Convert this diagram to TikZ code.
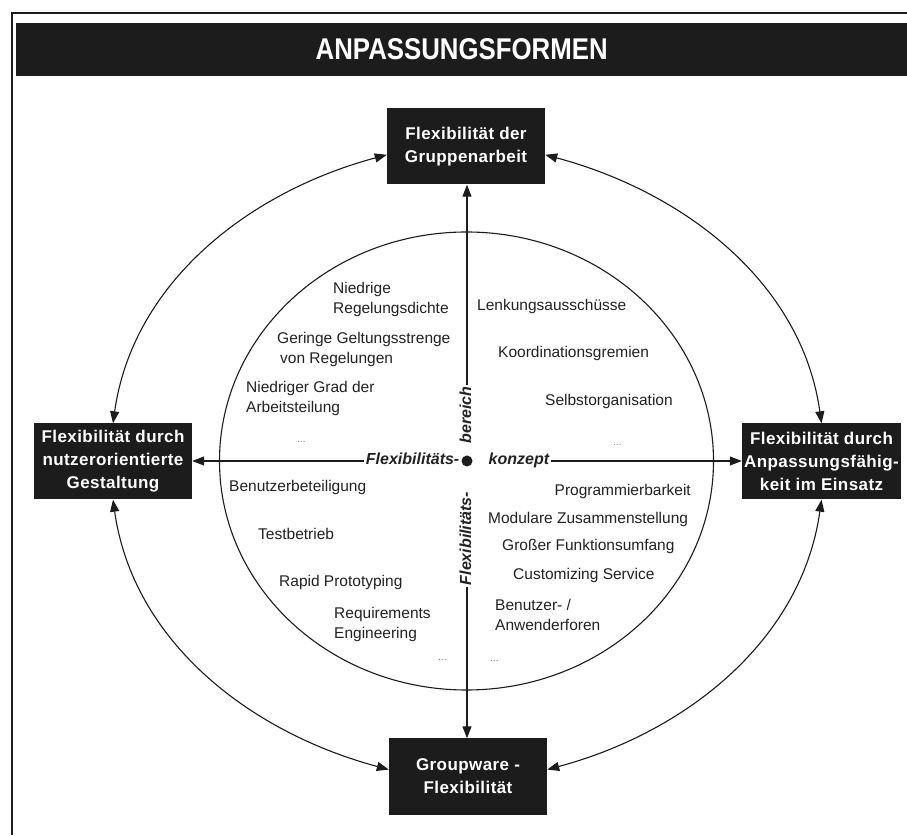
\documentclass[tikz,border=0pt]{standalone}
\usepackage{fontspec}
\setmainfont{Liberation Sans}
\newfontfamily\boxfont{Liberation Sans}[LetterSpace=2.5]
\newfontfamily\titlefont{Liberation Sans}[FakeStretch=0.86]
\usetikzlibrary{arrows.meta}
\definecolor{ink}{HTML}{1C1C1C}
\definecolor{txt}{HTML}{222222}
\begin{document}
\begin{tikzpicture}[x=1pt,y=1pt,
  box/.style={fill=ink, text=white, minimum width=158pt, minimum height=76pt, inner sep=0pt, align=center, font=\boxfont\bfseries\fontsize{17}{23}\selectfont},
  lbl/.style={text=txt, align=left, inner sep=0pt, font=\fontsize{15.5}{20}\selectfont},
  dotsl/.style={text=gray, inner sep=0pt, font=\fontsize{10}{10}\selectfont},
  axislbl/.style={text=txt, inner sep=1.5pt, text height=11.5pt, text depth=3.5pt, font=\bfseries\itshape\fontsize{16}{16}\selectfont},
  con/.style={draw=ink, line width=1.1pt, {Triangle[length=12pt,width=9pt]}-{Triangle[length=12pt,width=9pt]}},
  one/.style={draw=ink, line width=1.1pt, -{Triangle[length=12pt,width=9pt]}},
]
\useasboundingbox (0,0) rectangle (907,835);
\fill[white] (0,0) rectangle (907,835);
\draw[line width=1.6pt, ink] (12,0) -- (12,822) -- (907,822);
\node[fill=ink, minimum width=891pt, minimum height=53pt, inner sep=0pt, anchor=west, text=white, font=\titlefont\bfseries\fontsize{30}{30}\selectfont] (title) at (16,785.5) {ANPASSUNGSFORMEN};

% boxes
\node[box] (T) at (466,688.5) {Flexibilität der\\Gruppenarbeit};
\node[box] (L) at (113,373.5) {Flexibilität durch\\nutzerorientierte\\Gestaltung};
\node[box, minimum width=159pt] (R) at (821.5,373.5) {Flexibilität durch\\Anpassungsfähig-\\keit im Einsatz};
\node[box] (B) at (468,58.5) {Groupware -\\Flexibilität};

% inner circle
\draw[ink, line width=1.1pt] (466.5,374) ellipse [x radius=247, y radius=229];

% centre
\node[circle, fill=ink, minimum size=11pt, inner sep=0pt] (C) at (467,374) {};
\node[axislbl, anchor=east] (fh) at (461,374) {Flexibilitäts-};
\node[axislbl, anchor=west] (kz) at (487,374) {konzept};
\node[axislbl, rotate=90] (be) at (467,420) {bereich};
\node[axislbl, rotate=90] (fv) at (467,296.5) {Flexibilitäts-};

\draw[one] (be.east) -- (be.east |- T.south);
\draw[one] (fv.west) -- (fv.west |- B.north);
\draw[one] (fh.west) -- (fh.west -| L.east);
\draw[one] (kz.east) -- (kz.east -| R.west);

% outer arcs
\draw[con] (L.north) to[out=82, in=195, looseness=0.95] (T.186);
\draw[con] (R.north) to[out=98, in=-15, looseness=0.95] (T.354);
\draw[con] (L.south) to[out=-82, in=165, looseness=0.95] (B.175);
\draw[con] (R.south) to[out=262, in=15, looseness=0.95] (B.5);

% upper left
\node[lbl, anchor=west] (a1) at (333,536) {Niedrige\\Regelungsdichte};
\node[lbl, anchor=west] (a2) at (277,485.5) {Geringe Geltungsstrenge\\\hspace{3pt}von Regelungen};
\node[lbl, anchor=west] (a3) at (246,437) {Niedriger Grad der\\Arbeitsteilung};
\node[dotsl, anchor=west] (a4) at (297,393) {...};
% upper right
\node[lbl, anchor=west] (b1) at (477,529) {Lenkungsausschüsse};
\node[lbl, anchor=west] (b2) at (498,482) {Koordinationsgremien};
\node[lbl, anchor=west] (b3) at (545,434) {Selbstorganisation};
\node[dotsl, anchor=west] (b4) at (613,390) {...};
% lower left
\node[lbl, anchor=west] (c1) at (229,348) {Benutzerbeteiligung};
\node[lbl, anchor=west] (c2) at (258,301) {Testbetrieb};
\node[lbl, anchor=west] (c3) at (279,253) {Rapid Prototyping};
\node[lbl, anchor=west] (c4) at (334,210.5) {Requirements\\Engineering};
\node[dotsl, anchor=west] (c5) at (438,175) {...};
% lower right
\node[lbl, anchor=east] (d1) at (691,344) {Programmierbarkeit};
\node[lbl, anchor=west] (d2) at (488,316) {Modulare Zusammenstellung};
\node[lbl, anchor=west] (d3) at (502,289) {Großer Funktionsumfang};
\node[lbl, anchor=west] (d4) at (513,260) {Customizing Service};
\node[lbl, anchor=west] (d5) at (495,220) {Benutzer- /\\Anwenderforen};
\node[dotsl, anchor=west] (d6) at (490,174) {...};
\end{tikzpicture}
\end{document}
